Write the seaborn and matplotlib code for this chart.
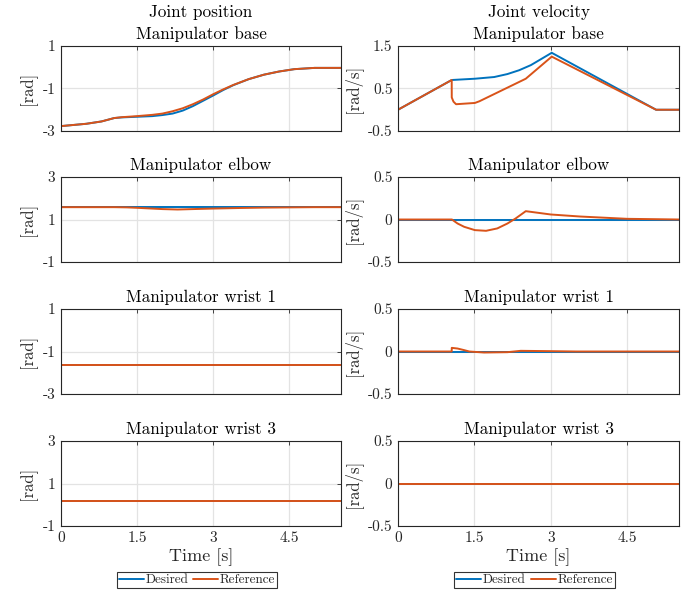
import numpy as np
import pandas as pd
import seaborn as sns
import matplotlib
matplotlib.use("Agg")
import matplotlib.pyplot as plt

# ---------------- data ----------------
joints = ["Manipulator base", "Manipulator elbow", "Manipulator wrist 1", "Manipulator wrist 3"]

# position, base
pos_base_t_des = [0, 0.5, 0.8, 1.05, 1.2, 1.5, 1.8, 2.0, 2.2, 2.4, 2.6, 2.8, 3.0, 3.2, 3.4,
                  3.7, 4.0, 4.3, 4.6, 5.0, 5.52]
pos_base_des = [-2.77, -2.66, -2.55, -2.39, -2.36, -2.33, -2.30, -2.25, -2.18, -2.04, -1.83,
                -1.58, -1.33, -1.07, -0.84, -0.56, -0.35, -0.20, -0.09, -0.03, -0.03]
pos_base_t_ref = [0, 0.5, 0.8, 1.05, 1.2, 1.5, 1.8, 2.0, 2.2, 2.4, 2.6, 2.8, 3.0, 3.2, 3.4,
                  3.7, 4.0, 4.3, 4.6, 5.0, 5.52]
pos_base_ref = [-2.77, -2.66, -2.55, -2.39, -2.35, -2.30, -2.24, -2.18, -2.07, -1.93, -1.74,
                -1.52, -1.27, -1.04, -0.83, -0.56, -0.35, -0.20, -0.09, -0.03, -0.03]

# position, elbow
pos_elbow_t_des = [0, 5.52]
pos_elbow_des = [1.58, 1.58]
pos_elbow_t_ref = [0, 1.05, 1.3, 1.5, 1.75, 2.0, 2.3, 2.6, 3.0, 3.5, 4.0, 4.5, 5.0, 5.52]
pos_elbow_ref = [1.58, 1.58, 1.57, 1.55, 1.52, 1.49, 1.47, 1.49, 1.515, 1.54, 1.56, 1.57, 1.58, 1.58]

# position, wrist 1
pos_wrist1_t_des = [0, 5.52]
pos_wrist1_des = [-1.64, -1.64]
pos_wrist1_t_ref = [0, 5.52]
pos_wrist1_ref = [-1.64, -1.64]

# position, wrist 3
pos_wrist3_t_des = [0, 5.52]
pos_wrist3_des = [0.18, 0.18]
pos_wrist3_t_ref = [0, 5.52]
pos_wrist3_ref = [0.18, 0.18]

# velocity, base
vel_base_t_des = [0, 1.055, 1.51, 1.89, 2.15, 2.38, 2.61, 3.02, 5.07, 5.52]
vel_base_des = [0.0, 0.70, 0.73, 0.77, 0.84, 0.93, 1.05, 1.34, 0.0, 0.0]
vel_base_t_ref = [0, 1.055, 1.056, 1.09, 1.14, 1.51, 1.6, 2.51, 3.02, 5.07, 5.52]
vel_base_ref = [0.0, 0.70, 0.29, 0.19, 0.13, 0.16, 0.20, 0.73, 1.25, 0.0, 0.0]

# velocity, elbow
vel_elbow_t_des = [0, 5.52]
vel_elbow_des = [0.0, 0.0]
vel_elbow_t_ref = [0, 1.06, 1.17, 1.30, 1.51, 1.73, 1.95, 2.15, 2.31, 2.51, 3.0, 3.58,
                   4.5, 5.52]
vel_elbow_ref = [0.0, 0.0, -0.047, -0.086, -0.125, -0.133, -0.105, -0.047, 0.012, 0.098,
                 0.059, 0.035, 0.008, 0.0]

# velocity, wrist 1
vel_wrist1_t_des = [0, 5.52]
vel_wrist1_des = [0.0, 0.0]
vel_wrist1_t_ref = [0, 1.055, 1.056, 1.17, 1.3, 1.4, 1.69, 2.15, 2.41, 3.0, 3.5, 5.52]
vel_wrist1_ref = [0.0, 0.0, 0.043, 0.035, 0.016, 0.0, -0.012, -0.008, 0.008, 0.004, 0.0, 0.0]

# velocity, wrist 3
vel_wrist3_t_des = [0, 5.52]
vel_wrist3_des = [0.0, 0.0]
vel_wrist3_t_ref = [0, 5.52]
vel_wrist3_ref = [0.0, 0.0]

pos_yticks = [[-3, -1, 1], [-1, 1, 3], [-3, -1, 1], [-1, 1, 3]]
vel_yticks = [[-0.5, 0.5, 1.5], [-0.5, 0, 0.5], [-0.5, 0, 0.5], [-0.5, 0, 0.5]]
pos_ytick_labels = [["-3", "-1", "1"], ["-1", "1", "3"], ["-3", "-1", "1"], ["-1", "1", "3"]]
vel_ytick_labels = [["-0.5", "0.5", "1.5"], ["-0.5", "0", "0.5"], ["-0.5", "0", "0.5"], ["-0.5", "0", "0.5"]]
x_ticks = [0, 1.5, 3, 4.5]
x_tick_labels = ["0", "1.5", "3", "4.5"]
series_names = ["Desired", "Reference"]

pos_data = [
    (pos_base_t_des, pos_base_des, pos_base_t_ref, pos_base_ref),
    (pos_elbow_t_des, pos_elbow_des, pos_elbow_t_ref, pos_elbow_ref),
    (pos_wrist1_t_des, pos_wrist1_des, pos_wrist1_t_ref, pos_wrist1_ref),
    (pos_wrist3_t_des, pos_wrist3_des, pos_wrist3_t_ref, pos_wrist3_ref),
]
vel_data = [
    (vel_base_t_des, vel_base_des, vel_base_t_ref, vel_base_ref),
    (vel_elbow_t_des, vel_elbow_des, vel_elbow_t_ref, vel_elbow_ref),
    (vel_wrist1_t_des, vel_wrist1_des, vel_wrist1_t_ref, vel_wrist1_ref),
    (vel_wrist3_t_des, vel_wrist3_des, vel_wrist3_t_ref, vel_wrist3_ref),
]

# ---------------- style ----------------
sns.set_style("white")
plt.rcParams["font.family"] = ["cmr10", "DejaVu Serif"]
plt.rcParams["mathtext.fontset"] = "cm"
plt.rcParams["axes.unicode_minus"] = False
plt.rcParams["axes.formatter.use_mathtext"] = True

BLUE = "#0072BD"
ORANGE = "#D95319"
GRID = "#e3e3e3"
EDGE = "#262626"

fig = plt.figure(figsize=(6.89, 5.90), dpi=100)

col_left = [61 / 689, 398 / 689]
col_width = [280 / 689, 281 / 689]
row_top_px = [46, 177, 309, 441]
row_h_px = 85
W, H = 689, 590


def style_axis(ax, yticks, ylabels, ylabel, bottom):
    ax.set_xlim(0, 5.52)
    ax.set_ylim(yticks[0], yticks[-1])
    ax.set_xticks(x_ticks)
    ax.set_yticks(yticks)
    ax.set_yticklabels(ylabels, fontsize=11)
    if bottom:
        ax.set_xticklabels(x_tick_labels, fontsize=11)
        ax.set_xlabel("Time [s]", fontsize=13, labelpad=2)
    else:
        ax.set_xticklabels([])
        ax.set_xlabel("")
    ax.set_ylabel(ylabel, fontsize=12, labelpad=4)
    ax.grid(True, color=GRID, linewidth=0.9)
    ax.set_axisbelow(True)
    for s in ax.spines.values():
        s.set_visible(True)
        s.set_color(EDGE)
        s.set_linewidth(0.8)
    ax.tick_params(direction="in", length=3, width=0.6, color=EDGE,
                   top=True, right=True, labelcolor="#262626", pad=4)


for col, (data, yticks_all, ylabels_all, ylab, head) in enumerate([
        (pos_data, pos_yticks, pos_ytick_labels, "[rad]", "Joint position"),
        (vel_data, vel_yticks, vel_ytick_labels, "[rad/s]", "Joint velocity")]):
    for row in range(4):
        bottom_frac = 1 - (row_top_px[row] + row_h_px) / H
        ax = fig.add_axes([col_left[col], bottom_frac, col_width[col], row_h_px / H])
        td, yd, tr, yr = data[row]
        sns.lineplot(x=td, y=yd, ax=ax, color=BLUE, linewidth=1.4,
                     estimator=None, sort=False, label=series_names[0])
        sns.lineplot(x=tr, y=yr, ax=ax, color=ORANGE, linewidth=1.4,
                     estimator=None, sort=False, label=series_names[1])
        handles, labels = ax.get_legend_handles_labels()
        if ax.get_legend() is not None:
            ax.get_legend().remove()
        style_axis(ax, yticks_all[row], ylabels_all[row], ylab, row == 3)
        title = joints[row] if row > 0 else head + "\n" + joints[row]
        ax.set_title(title, fontsize=12.3, pad=5, color="black", linespacing=1.5)
        if row == 3:
            leg_x = (col_left[col] + col_width[col] / 2) - 4 / W
            leg = fig.legend(handles, labels, loc="center",
                             bbox_to_anchor=(leg_x, 1 - 580 / H), ncol=2,
                             fontsize=9.5, frameon=True, fancybox=False,
                             handlelength=1.9, handletextpad=0.15,
                             columnspacing=0.35, borderpad=0.15,
                             borderaxespad=0)
            leg.get_frame().set_edgecolor("black")
            leg.get_frame().set_linewidth(0.8)

fig.savefig("out.png", dpi=100)
